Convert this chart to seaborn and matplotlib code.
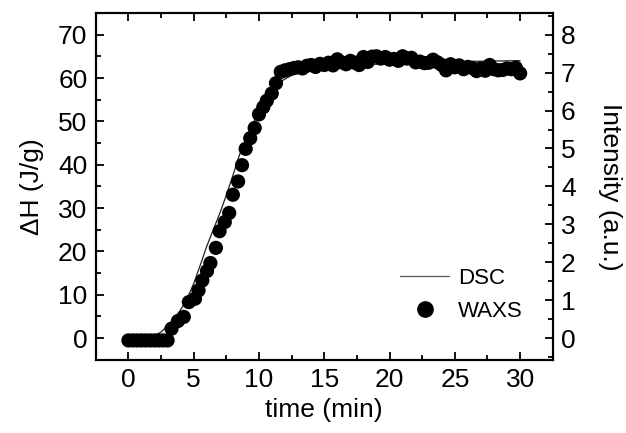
import numpy as np
import pandas as pd
import matplotlib
matplotlib.use("Agg")
import matplotlib.pyplot as plt
from matplotlib.ticker import MultipleLocator
from matplotlib.lines import Line2D
import seaborn as sns

# ---- DSC (left axis, J/g) ----
dsc_time = [0.0, 1.0, 1.8, 2.5, 3.2, 3.7, 4.2, 4.7, 5.0, 5.5, 6.0, 6.5, 7.0, 7.5,
            8.0, 8.5, 9.0, 9.5, 10.0, 10.5, 11.0, 11.5, 12.0, 12.5, 13.0, 14.0,
            15.0, 17.0, 20.0, 25.0, 30.0]
dsc_dh = [0.0, 0.0, 0.3, 1.4, 3.5, 5.2, 7.5, 10.5, 12.6, 16.8, 21.2, 25.0, 28.8, 33.0,
          37.5, 42.2, 45.8, 49.2, 52.3, 55.0, 57.2, 58.8, 59.8, 60.6, 61.2, 62.0,
          62.5, 63.0, 63.3, 63.8, 64.0]

# ---- WAXS (right axis, a.u.) ----
waxs_time = [0.0, 0.33, 0.67, 1.0, 1.33, 1.67, 2.0, 2.33, 2.67, 3.0,
             3.3, 3.79, 4.24, 4.63, 5.1, 5.37, 5.66, 6.02, 6.28, 6.7, 6.98, 7.38,
             7.72, 8.0, 8.4, 8.7, 8.98, 9.33, 9.67, 10.0, 10.33, 10.6, 10.98, 11.3,
             11.67,
             12.0, 12.33, 12.67, 13.0, 13.33, 13.67, 14.0, 14.33, 14.67, 15.0,
             15.33, 15.67, 16.0, 16.33, 16.67, 17.0, 17.33, 17.67, 18.0, 18.33,
             18.67, 19.0, 19.33, 19.67, 20.0, 20.33, 20.67, 21.0, 21.33, 21.67,
             22.0, 22.33, 22.67, 23.0, 23.33, 23.67, 24.0, 24.33, 24.67, 25.0,
             25.33, 25.67, 26.0, 26.33, 26.67, 27.0, 27.33, 27.67, 28.0, 28.33,
             28.67, 29.0, 29.33, 29.67, 30.0]
waxs_int = [-0.06, -0.06, -0.06, -0.06, -0.06, -0.06, -0.06, -0.06, -0.06, -0.06,
            0.25, 0.45, 0.56, 0.95, 1.04, 1.26, 1.52, 1.77, 1.98, 2.38, 2.82, 3.06,
            3.30, 3.78, 4.13, 4.56, 4.99, 5.27, 5.54, 5.90, 6.09, 6.26, 6.45, 6.72,
            7.02,
            7.06, 7.09, 7.12, 7.14, 7.11, 7.18, 7.20, 7.15, 7.23, 7.20,
            7.26, 7.19, 7.35, 7.27, 7.22, 7.31, 7.26, 7.20, 7.41, 7.28,
            7.42, 7.43, 7.37, 7.41, 7.34, 7.36, 7.31, 7.43, 7.37, 7.39,
            7.27, 7.29, 7.25, 7.26, 7.34, 7.27, 7.20, 7.06, 7.22, 7.14,
            7.19, 7.09, 7.15, 7.12, 7.04, 7.11, 7.05, 7.20, 7.09, 7.06,
            7.07, 7.11, 7.09, 7.13, 6.98]

x_ticks = [0, 5, 10, 15, 20, 25, 30]
left_ticks = [0, 10, 20, 30, 40, 50, 60, 70]
right_ticks = [0, 1, 2, 3, 4, 5, 6, 7, 8]

sns.set_style("ticks")
plt.rcParams['font.family'] = ['Liberation Sans', 'DejaVu Sans']
plt.rcParams.update({"text.color": "black", "axes.labelcolor": "black",
                     "xtick.color": "black", "ytick.color": "black"})

dsc = pd.DataFrame({"time": dsc_time, "dH": dsc_dh})
waxs = pd.DataFrame({"time": waxs_time, "I": waxs_int})

fig = plt.figure(figsize=(6.26, 4.33), dpi=100)
ax = fig.add_axes([0.153, 0.169, 0.730, 0.801])
ax2 = ax.twinx()

sns.lineplot(data=dsc, x="time", y="dH", ax=ax, color="#222222", linewidth=0.9,
             legend=False)
sns.scatterplot(data=waxs, x="time", y="I", ax=ax2, color="black", s=105,
                edgecolor="none", legend=False, zorder=3)

ax.set_xlim(-2.5, 32.5)
ax.set_ylim(-5, 75)
ax2.set_ylim(-5 / 8.75, 75 / 8.75)

fs = 19
ax.set_xticks(x_ticks)
ax.set_yticks(left_ticks)
ax2.set_yticks(right_ticks)
ax.xaxis.set_minor_locator(MultipleLocator(2.5))
ax.yaxis.set_minor_locator(MultipleLocator(5))
ax2.yaxis.set_minor_locator(MultipleLocator(0.5))

ax.tick_params(axis="x", which="both", direction="in", top=True, bottom=True,
               labelsize=fs, pad=6, width=1.3)
ax.tick_params(axis="y", which="both", direction="in", left=True, right=False,
               labelsize=fs, pad=6, width=1.3)
ax2.tick_params(axis="y", which="both", direction="in", right=True, left=False,
                labelsize=fs, pad=6, width=1.3)
for a in (ax, ax2):
    a.tick_params(which="major", length=6)
    a.tick_params(which="minor", length=3.5)

for a in (ax, ax2):
    for sp in a.spines.values():
        sp.set_visible(True)
        sp.set_linewidth(1.5)
        sp.set_color("black")

ax.set_xlabel("time (min)", fontsize=fs, labelpad=4)
ax.set_ylabel("ΔH (J/g)", fontsize=fs, labelpad=10)
ax2.set_ylabel("Intensity (a.u.)", fontsize=fs, rotation=270, labelpad=33)

handles = [Line2D([], [], color="#555555", linewidth=0.9),
           Line2D([], [], marker="o", linestyle="none", color="black",
                  markersize=11)]
ax2.legend(handles, ["DSC", "WAXS"], loc="lower right",
           bbox_to_anchor=(0.978, 0.052), frameon=False, fontsize=16,
           handlelength=2.2, handletextpad=0.4, labelspacing=0.55)

fig.savefig("out.png", dpi=100)
